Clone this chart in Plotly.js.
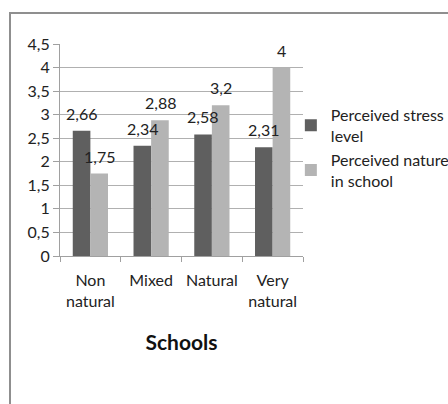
<!DOCTYPE html>
<html>
<head>
<meta charset="utf-8">
<script src="https://cdn.plot.ly/plotly-3.0.1.min.js"></script>
<style>
  html, body { margin: 0; padding: 0; background: #fff; }
  #wrap { position: relative; width: 448px; height: 404px; overflow: hidden; }
  #chart { position: absolute; left: 0; top: 0; width: 448px; height: 404px; }
  #frame { position: absolute; left: 9px; top: 12px; width: 460px; height: 420px;
           border-left: 2px solid #8f8f8f; border-top: 2px solid #8f8f8f; pointer-events: none; }
</style>
</head>
<body>
<div id="wrap">
  <div id="chart"></div>
  <div id="frame"></div>
</div>
<script>
// School categories and survey means
const categories = ['Non<br>natural', 'Mixed', 'Natural', 'Very<br>natural'];
const stressLevel = [2.66, 2.34, 2.58, 2.31];
const natureInSchool = [1.75, 2.88, 3.2, 4];
const seriesNames = ['Perceived stress<br>level', 'Perceived nature<br>in school'];
const yTicks = [0, 0.5, 1, 1.5, 2, 2.5, 3, 3.5, 4, 4.5];

const FONT = 'Lato, "Open Sans", sans-serif';
const TXT = '#222';
const fmt = v => String(v).replace('.', ',');

const traces = [
  { type: 'bar', name: seriesNames[0], x: categories, y: stressLevel,
    marker: { color: '#5f5f5f' }, hoverinfo: 'skip' },
  { type: 'bar', name: seriesNames[1], x: categories, y: natureInSchool,
    marker: { color: '#b4b4b4' }, hoverinfo: 'skip' }
];

// value labels above each bar
const annotations = [];
[stressLevel, natureInSchool].forEach((vals, s) => {
  vals.forEach((v, i) => {
    annotations.push({
      x: categories[i], y: v, xref: 'x', yref: 'y',
      text: fmt(v), showarrow: false,
      xshift: s === 0 ? -9 : 9, yanchor: 'bottom', yshift: 6,
      font: { family: FONT, size: 16, color: TXT }
    });
  });
});

const layout = {
  width: 448, height: 404,
  margin: { l: 60, r: 145, t: 44, b: 148, autoexpand: false },
  paper_bgcolor: 'rgba(0,0,0,0)', plot_bgcolor: '#fff',
  separators: ', ',
  font: { family: FONT, size: 16, color: TXT },
  barmode: 'group', bargap: 0.42, bargroupgap: 0,
  showlegend: true,
  legend: {
    x: 0.95, xanchor: 'left', y: 0.745, yanchor: 'top',
    font: { family: FONT, size: 16, color: TXT },
    tracegroupgap: 6, itemwidth: 30, bgcolor: 'rgba(0,0,0,0)'
  },
  xaxis: {
    type: 'category', tickangle: 0,
    showline: true, linecolor: '#a0a0a0', linewidth: 1,
    ticks: 'outside', tickson: 'boundaries', ticklen: 5, tickcolor: '#a0a0a0',
    ticklabelstandoff: 10,
    tickfont: { family: FONT, size: 16, color: TXT },
    showgrid: false,
    title: { text: '<b>Schools</b>', font: { family: FONT, size: 21, color: '#111' }, standoff: 26 }
  },
  yaxis: {
    range: [0, 4.5], tickvals: yTicks, ticktext: yTicks.map(fmt),
    showline: true, linecolor: '#a0a0a0', linewidth: 1,
    ticks: 'outside', ticklen: 6, tickcolor: '#a0a0a0',
    showgrid: true, gridcolor: '#b0b0b0', gridwidth: 1,
    zeroline: false,
    tickfont: { family: FONT, size: 16, color: TXT }
  },
  annotations: annotations
};

Plotly.newPlot('chart', traces, layout, { staticPlot: true, displayModeBar: false });
</script>
</body>
</html>
